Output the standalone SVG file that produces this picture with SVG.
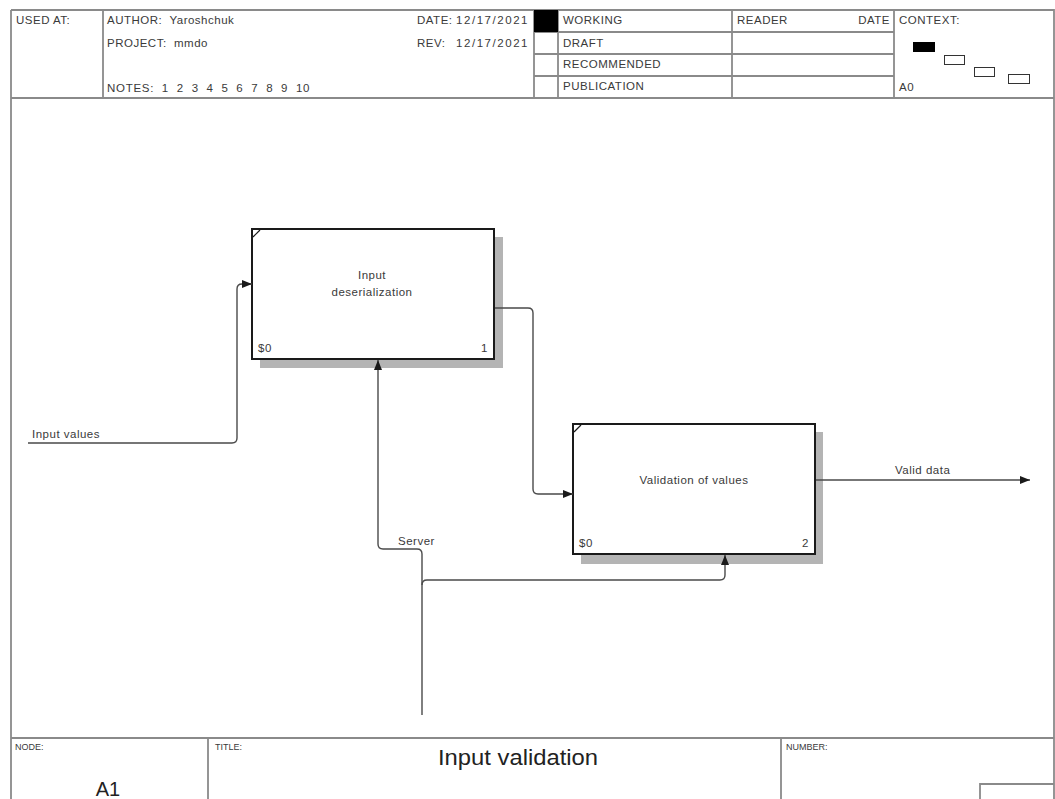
<svg xmlns="http://www.w3.org/2000/svg" width="1055" height="799" viewBox="0 0 1055 799">
<defs>
<style>
.frame{stroke:#8a8a8a;stroke-width:1.8;fill:none}
.t{font-family:"Liberation Sans",Arial,sans-serif;font-size:11.5px;letter-spacing:0.5px;fill:#3a3a3a;white-space:pre}
.s{font-family:"Liberation Sans",Arial,sans-serif;font-size:9px;fill:#3a3a3a}
.box{fill:#fff;stroke:#1a1a1a;stroke-width:2}
.shadow{fill:#b4b4b4}
.conn{fill:none;stroke:#4a4a4a;stroke-width:1.4}
</style>
<marker id="arr" viewBox="0 0 10 8" refX="10" refY="4" markerWidth="10" markerHeight="8" markerUnits="userSpaceOnUse" orient="auto">
<path d="M0,0 L10,4 L0,8 Z" fill="#1a1a1a"/>
</marker>
</defs>
<rect width="1055" height="799" fill="#fff"/>
<g id="frame">
<path class="frame" d="M11,10 H1054 V799 M11,10 V799 M11,98 H1054 M103,10 V98 M534,10 V98 M558,10 V98 M732,10 V98 M894,10 V98 M534,32 H894 M534,54 H894 M534,76 H894"/>
<rect x="534" y="10" width="24" height="22" fill="#000"/>
<path class="frame" d="M11,738 H1054 M208,738 V799 M781,738 V799 M980,799 V784 H1054"/>
<text class="t" x="16" y="24">USED AT:</text>
<text class="t" x="107" y="24">AUTHOR:  Yaroshchuk</text>
<text class="t" x="107" y="47">PROJECT:  mmdo</text>
<text class="t" x="107" y="92" textLength="203">NOTES:  1  2  3  4  5  6  7  8  9  10</text>
<text class="t" x="417" y="24">DATE:</text>
<text class="t" x="528" y="24" text-anchor="end" textLength="72">12/17/2021</text>
<text class="t" x="417" y="47">REV:</text>
<text class="t" x="528" y="47" text-anchor="end" textLength="72">12/17/2021</text>
<text class="t" x="563" y="24">WORKING</text>
<text class="t" x="563" y="47">DRAFT</text>
<text class="t" x="563" y="68">RECOMMENDED</text>
<text class="t" x="563" y="90">PUBLICATION</text>
<text class="t" x="737" y="24">READER</text>
<text class="t" x="890" y="24" text-anchor="end">DATE</text>
<text class="t" x="899" y="24">CONTEXT:</text>
<text class="t" x="899" y="91">A0</text>
<rect x="913" y="42" width="22" height="10" fill="#000"/>
<rect x="944.5" y="55.5" width="20" height="9" fill="none" stroke="#333" stroke-width="1"/>
<rect x="974.5" y="67.5" width="20" height="9" fill="none" stroke="#333" stroke-width="1"/>
<rect x="1008.5" y="74.5" width="21" height="9" fill="none" stroke="#333" stroke-width="1"/>
<text class="s" x="15" y="750">NODE:</text>
<text class="s" x="215" y="750">TITLE:</text>
<text class="s" x="786" y="750">NUMBER:</text>
<text x="108" y="796" text-anchor="middle" font-family="Liberation Sans, Arial, sans-serif" font-size="20" fill="#222">A1</text>
<text x="518" y="765" text-anchor="middle" font-family="Liberation Sans, Arial, sans-serif" font-size="22" fill="#222" textLength="160" lengthAdjust="spacingAndGlyphs">Input validation</text>
</g>
<g id="node1">
<rect class="shadow" x="260" y="237" width="243" height="131"/>
<rect class="box" x="252" y="229" width="242" height="130"/>
<path d="M253,237 L260,230" stroke="#1a1a1a" stroke-width="1.2"/>
<text class="t" x="372" y="279" text-anchor="middle">Input</text>
<text class="t" x="372" y="296" text-anchor="middle">deserialization</text>
<text class="t" x="258" y="352">$0</text>
<text class="t" x="488" y="352" text-anchor="end">1</text>
</g>
<g id="node2">
<rect class="shadow" x="581" y="432" width="242" height="132"/>
<rect class="box" x="573" y="424" width="242" height="130"/>
<path d="M574,432 L581,425" stroke="#1a1a1a" stroke-width="1.2"/>
<text class="t" x="694" y="484" text-anchor="middle">Validation of values</text>
<text class="t" x="579" y="547">$0</text>
<text class="t" x="809" y="547" text-anchor="end">2</text>
</g>
<g id="connectors">
<path class="conn" d="M28,443 H232 Q237,443 237,438 V289 Q237,284 242,284 H252" marker-end="url(#arr)"/>
<path class="conn" d="M495,308 H528 Q533,308 533,313 V489 Q533,494 538,494 H573" marker-end="url(#arr)"/>
<path class="conn" d="M816,480 H1030" marker-end="url(#arr)"/>
<path class="conn" d="M422,715 V554 Q422,549 417,549 H383 Q378,549 378,544 V360" marker-end="url(#arr)"/>
<path class="conn" d="M422,585 Q422,580 427,580 H720 Q725,580 725,575 V555" marker-end="url(#arr)"/>
<text class="t" x="32" y="438">Input values</text>
<text class="t" x="895" y="474">Valid data</text>
<text class="t" x="398" y="545">Server</text>
</g>
</svg>
